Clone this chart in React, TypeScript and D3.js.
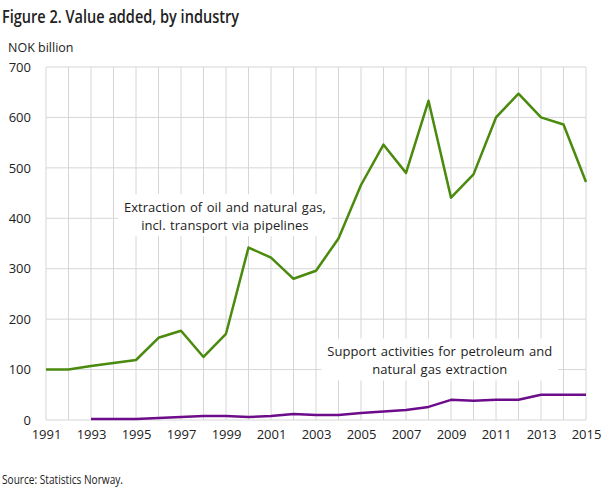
import { useEffect, useRef } from 'react'
import * as d3 from 'd3'

// values (NOK billion)
const years = d3.range(1991, 2016)
const oilGas = [100, 100, 107, 113, 119, 163, 177, 125, 171, 342, 322, 280, 296, 360, 466, 546, 490, 633, 441, 487, 600, 647, 600, 586, 472]
const supportYears = d3.range(1993, 2016)
const support = [2, 2, 2, 4, 6, 8, 8, 6, 8, 12, 10, 10, 14, 17, 20, 26, 40, 38, 40, 40, 50, 50, 50]
const yTicks = [0, 100, 200, 300, 400, 500, 600, 700]
const xTicks = d3.range(1991, 2016, 2)

const font = 'Open Sans, sans-serif'

export default function App() {
    const svgRef = useRef<SVGSVGElement>(null)

    useEffect(() => {
        if (!svgRef.current) return
        const svg = d3.select(svgRef.current)
        svg.selectAll('*').remove()

        const W = 609, H = 489
        const margin = { top: 67, right: 23, bottom: 69, left: 46 }
        const width = W - margin.left - margin.right
        const height = H - margin.top - margin.bottom

        svg.attr('width', W).attr('height', H)
            .style('font-family', font)

        svg.append('rect').attr('width', W).attr('height', H).attr('fill', 'white')

        // title, unit, source (the original uses a narrow font, so squeeze to its width)
        svg.append('text')
            .attr('x', 2).attr('y', 23)
            .style('font-size', '17.5px')
            .style('font-weight', 600)
            .attr('fill', '#222')
            .attr('textLength', 237)
            .attr('lengthAdjust', 'spacingAndGlyphs')
            .text('Figure 2. Value added, by industry')
        svg.append('text')
            .attr('x', 8).attr('y', 52)
            .style('font-size', '12.5px')
            .attr('fill', '#222')
            .text('NOK billion')
        svg.append('text')
            .attr('x', 2).attr('y', 484)
            .style('font-size', '12.5px')
            .attr('fill', '#222')
            .attr('textLength', 121)
            .attr('lengthAdjust', 'spacingAndGlyphs')
            .text('Source: Statistics Norway.')

        const g = svg.append('g')
            .attr('transform', `translate(${margin.left},${margin.top})`)

        const x = d3.scaleLinear().domain([1991, 2015]).range([0, width])
        const y = d3.scaleLinear().domain([0, 700]).range([height, 0])

        // grid
        g.append('g')
            .selectAll('line')
            .data(years)
            .enter().append('line')
            .attr('x1', d => x(d)).attr('x2', d => x(d))
            .attr('y1', 0).attr('y2', height)
            .attr('stroke', '#d6d6d6').attr('stroke-width', 1)
        g.append('g')
            .selectAll('line')
            .data(yTicks)
            .enter().append('line')
            .attr('x1', 0).attr('x2', width)
            .attr('y1', d => y(d)).attr('y2', d => y(d))
            .attr('stroke', '#d6d6d6').attr('stroke-width', 1)

        // axes labels
        const yAxis = g.append('g')
            .call(d3.axisLeft(y).tickValues(yTicks).tickSize(0).tickPadding(15))
        yAxis.select('.domain').remove()
        yAxis.selectAll('text')
            .style('font-family', font).style('font-size', '13px').attr('fill', '#222')

        const xAxis = g.append('g')
            .attr('transform', `translate(0,${height})`)
            .call(d3.axisBottom(x).tickValues(xTicks).tickFormat(d3.format('d')).tickSize(0).tickPadding(10))
        xAxis.select('.domain').remove()
        xAxis.selectAll('text')
            .style('font-family', font).style('font-size', '13px').attr('fill', '#222')

        // label boxes (cover the grid)
        const labels = [
            { lines: ['Extraction of oil and natural gas,', 'incl. transport via pipelines'], cx: 1998.95, cy: 412 },
            { lines: ['Support activities for petroleum  and', 'natural gas extraction'], cx: 2008.5, cy: 126 },
        ]
        labels.forEach(l => {
            const lg = g.append('g')
            const t = lg.append('text')
                .attr('text-anchor', 'middle')
                .style('font-size', '13px')
                .style('letter-spacing', '0.05px')
                .style('word-spacing', '1px')
                .attr('fill', '#222')
            l.lines.forEach((s, i) => {
                t.append('tspan')
                    .attr('x', x(l.cx))
                    .attr('y', y(l.cy) + i * 18)
                    .text(s)
            })
            const bb = (t.node() as SVGTextElement).getBBox()
            lg.insert('rect', 'text')
                .attr('x', bb.x - 6).attr('y', bb.y - 4)
                .attr('width', bb.width + 12).attr('height', bb.height + 6)
                .attr('fill', 'white')
        })

        // lines
        const line = d3.line<[number, number]>()
            .x(d => x(d[0])).y(d => y(d[1]))

        g.append('path')
            .datum(d3.zip(years, oilGas) as [number, number][])
            .attr('d', line)
            .attr('fill', 'none')
            .attr('stroke', '#4a8a0c')
            .attr('stroke-width', 2.5)
            .attr('stroke-linejoin', 'round')

        g.append('path')
            .datum(d3.zip(supportYears, support) as [number, number][])
            .attr('d', line)
            .attr('fill', 'none')
            .attr('stroke', '#6d0c8a')
            .attr('stroke-width', 2.5)
            .attr('stroke-linejoin', 'round')
    }, [])

    return (
        <div style={{ position: 'absolute', left: 0, top: 0 }}>
            <svg ref={svgRef}></svg>
        </div>
    )
}
